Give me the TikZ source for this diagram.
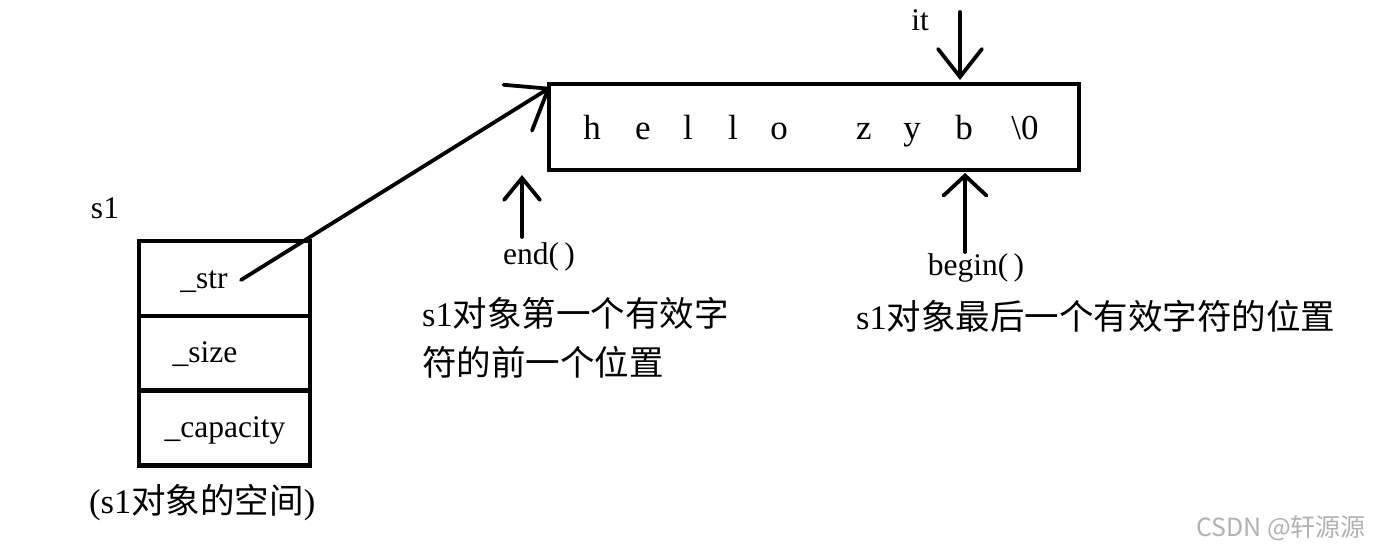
\documentclass[tikz,border=0pt]{standalone}
\usepackage{fontspec}
\setmainfont{Liberation Serif}
\newfontfamily\cjk{Noto Sans CJK SC}
\usetikzlibrary{arrows.meta}
\begin{document}
\begin{tikzpicture}[x=1pt,y=-1pt,
  lbl/.style={inner sep=0pt,font=\fontsize{31.5}{34}\selectfont},
  chr/.style={inner sep=0pt,anchor=base,font=\fontsize{35}{38}\selectfont},
  cn/.style={inner sep=0pt,anchor=west,font=\fontsize{34.5}{38}\selectfont},
  field/.style={draw,line width=4.5pt,minimum width=171pt,minimum height=75pt,inner sep=0pt},
  strbox/.style={draw,line width=4.5pt,minimum width=530pt,minimum height=86pt,inner sep=0pt},
  ptr/.style={line width=3.8pt,line cap=round},
]
\useasboundingbox (0,0) rectangle (1373,553);
\fill[white] (0,0) rectangle (1373,553);
% string buffer
\node[strbox] (buf) at (814,127) {};
\node[chr] (c1) at (592,140) {h};
\node[chr] (c2) at (643,140) {e};
\node[chr] (c3) at (688,140) {l};
\node[chr] (c4) at (733,140) {l};
\node[chr] (c5) at (779,140) {o};
\node[chr] (c6) at (864,140) {z};
\node[chr] (c7) at (912,140) {y};
\node[chr] (c8) at (964,140) {b};
\node[chr] (c9) at (1025,140) {\textbackslash 0};
% object
\node[lbl] (s1) at (105,208) {s1};
\node[field] (f1) at (224.5,278.5) {};
\node[field] (f2) at (224.5,353.5) {};
\node[field] (f3) at (224.5,428) {};
\node[lbl] (tstr) at (204,282) {\_str};
\node[lbl] (tsize) at (205,354) {\_size};
\node[lbl] (tcap) at (225,430) {\_capacity};
\node[cn] (space) at (89,503) {(s1{\cjk 对象的空间})};
\coordinate (p) at (241,280);
\coordinate (ptip) at (551,87);
\draw[ptr,-{Straight Barb[length=36pt,width=54pt,line cap=round]}] (p) -- (ptip);
% it
\node[lbl] (it) at (920,20) {it};
\coordinate (itS) at (960,12);
\coordinate (itE) at (960,80);
\draw[ptr,-{Straight Barb[length=28pt,width=44pt,line cap=round]}] (itS) -- (itE);
% end
\coordinate (enS) at (522,237);
\coordinate (enE) at (522,175);
\draw[ptr,-{Straight Barb[length=22pt,width=36pt,line cap=round]}] (enS) -- (enE);
\node[lbl] (end) at (539,257) {end(\,)};
\node[cn] (d1) at (422,313) {s1{\cjk 对象第一个有效字}};
\node[cn] (d2) at (422,362) {{\cjk 符的前一个位置}};
% begin
\coordinate (bgS) at (965,252);
\coordinate (bgE) at (965,173);
\draw[ptr,-{Straight Barb[length=20pt,width=43pt,line cap=round]}] (bgS) -- (bgE);
\node[lbl] (begin) at (976,268) {begin(\,)};
\node[cn] (d3) at (856,316) {s1{\cjk 对象最后一个有效字符的位置}};
% watermark
\node[inner sep=0pt,anchor=east,text=black!30,font=\cjk\fontsize{25}{28}\selectfont] (wm) at (1366,528) {CSDN @轩源源};
\end{tikzpicture}
\end{document}
